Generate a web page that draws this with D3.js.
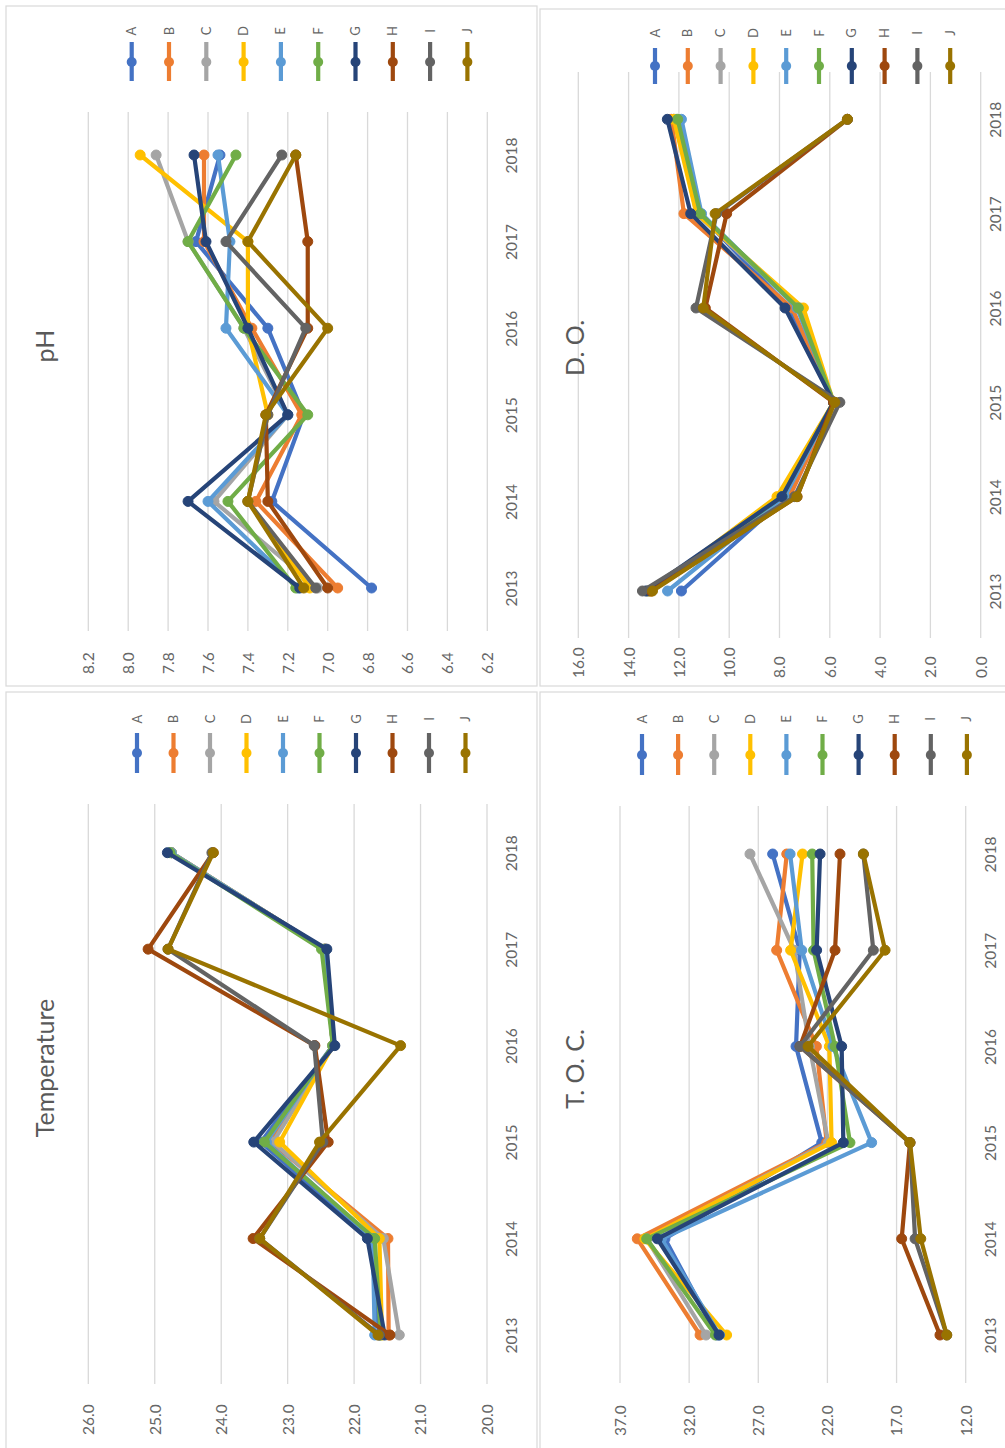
<!DOCTYPE html>
<html><head><meta charset="utf-8">
<script src="https://cdn.jsdelivr.net/npm/d3@7"></script>
<style>body{margin:0;background:#fff}svg{display:block}</style>
</head><body><svg id="c" width="1005" height="1448"></svg>
<script>
const years = ["2013","2014","2015","2016","2017","2018"];
const seriesNames = ["A","B","C","D","E","F","G","H","I","J"];
const seriesColors = ["#4472C4","#ED7D31","#A5A5A5","#FFC000","#5B9BD5","#70AD47","#264478","#9E480E","#636363","#997300"];

const phTicks = [8.2,8.0,7.8,7.6,7.4,7.2,7.0,6.8,6.6,6.4,6.2];
const phData = [
  [6.78,7.28,7.12,7.30,7.66,7.54],
  [6.95,7.36,7.13,7.38,7.62,7.62],
  [7.05,7.57,7.20,7.42,7.70,7.86],
  [7.09,7.40,7.30,7.40,7.40,7.94],
  [7.15,7.60,7.20,7.51,7.49,7.55],
  [7.16,7.50,7.10,7.42,7.70,7.46],
  [7.14,7.70,7.20,7.40,7.61,7.67],
  [7.00,7.30,7.31,7.10,7.10,7.16],
  [7.06,7.40,7.30,7.11,7.51,7.23],
  [7.12,7.40,7.31,7.00,7.40,7.16]
];

const doTicks = [16,14,12,10,8,6,4,2,0];
const doData = [
  [11.9,7.7,5.85,7.6,11.2,12.2],
  [13.2,7.6,5.85,7.5,11.8,12.3],
  [13.3,7.8,5.85,7.2,11.3,12.1],
  [13.1,8.1,5.85,7.05,11.3,12.2],
  [12.45,7.8,5.85,7.3,11.1,11.9],
  [13.2,7.9,5.85,7.25,11.15,12.05],
  [13.3,7.9,5.85,7.78,11.53,12.46],
  [13.1,7.3,5.85,10.95,10.1,5.3],
  [13.45,7.4,5.6,11.32,10.5,5.3],
  [13.05,7.31,5.8,11.03,10.56,5.3]
];

const tempTicks = [26,25,24,23,22,21,20];
const tempData = [
  [21.62,21.75,23.40,22.32,22.44,24.75],
  [21.48,21.49,23.25,22.32,22.44,24.75],
  [21.32,21.56,23.22,22.32,22.44,24.75],
  [21.58,21.62,23.12,22.32,22.44,24.75],
  [21.69,21.72,23.32,22.32,22.44,24.75],
  [21.60,21.69,23.35,22.32,22.49,24.77],
  [21.54,21.80,23.51,22.29,22.41,24.81],
  [21.46,23.52,22.39,22.59,25.10,24.12],
  [21.62,23.42,22.47,22.60,24.80,24.14],
  [21.64,23.42,22.52,21.30,24.80,24.12]
];

const tocTicks = [37,32,27,22,17,12];
const tocData = [
  [30.0,33.75,22.41,24.27,24.0,25.96],
  [31.21,35.75,22.05,22.8,25.67,24.94],
  [30.78,35.07,21.93,23.3,24.4,27.6],
  [29.29,35.2,21.7,21.86,24.66,23.8],
  [29.8,34.0,18.8,21.6,23.86,24.7],
  [30.1,35.07,20.37,21.45,23.0,23.1],
  [29.84,34.3,20.85,20.97,22.78,22.53],
  [13.86,16.63,16.03,23.98,21.45,21.09],
  [13.37,15.66,16.03,23.98,18.68,19.4],
  [13.37,15.25,16.03,23.4,17.83,19.4]
];

const FONT = "Lato, 'Open Sans', sans-serif";
const svg = d3.select("#c");

function drawPanel(p) {
  const g = svg.append("g");
  g.append("rect").attr("x", p.box[0]).attr("y", p.box[1]).attr("width", p.box[2]).attr("height", p.box[3])
    .attr("fill", "#fff").attr("stroke", "#d9d9d9").attr("stroke-width", 1.2);

  const x = d3.scaleLinear().domain([p.ticks[0], p.ticks[p.ticks.length - 1]]).range(p.xRange);
  const y = d3.scalePoint().domain(years).range(p.yRange);

  g.selectAll("line.grid").data(p.ticks).join("line").attr("class", "grid")
    .attr("x1", d => x(d)).attr("x2", d => x(d))
    .attr("y1", p.gridY[0]).attr("y2", p.gridY[1])
    .attr("stroke", "#d9d9d9").attr("stroke-width", 1.3);

  const va = g.append("g").attr("transform", `translate(0,${p.valueLabelY})`)
    .call(d3.axisBottom(x).tickValues(p.ticks).tickSize(0).tickFormat(d3.format(".1f")));
  va.select(".domain").remove();
  va.attr("font-family", FONT).attr("font-size", 15.5);
  va.selectAll("text").attr("x", 0).attr("y", 0).attr("dy", "0.35em")
    .attr("transform", "rotate(-90)").attr("text-anchor", "start").attr("fill", "#666");

  const ya = g.append("g").attr("transform", `translate(${p.yearX},0)`)
    .call(d3.axisRight(y).tickSize(0));
  ya.select(".domain").remove();
  ya.attr("font-family", FONT).attr("font-size", 15.5);
  ya.selectAll("text").attr("x", 0).attr("y", 0).attr("dy", "0.35em")
    .attr("transform", "rotate(-90)").attr("text-anchor", "middle").attr("fill", "#666");

  g.append("text").attr("transform", `translate(${p.title[0]},${p.title[1]}) rotate(-90)`)
    .attr("text-anchor", "middle").attr("dy", "0.35em")
    .attr("font-family", FONT).attr("font-size", 25).attr("fill", "#595959").text(p.titleText);

  const line = d3.line().x(d => x(d.v)).y(d => y(d.yr));
  p.data.forEach((vals, i) => {
    const pts = vals.map((v, j) => ({ v: v, yr: years[j] }));
    const sg = g.append("g");
    sg.append("path").datum(pts).attr("d", line).attr("fill", "none")
      .attr("stroke", seriesColors[i]).attr("stroke-width", 4.2)
      .attr("stroke-linejoin", "round").attr("stroke-linecap", "round");
    sg.selectAll("circle").data(pts).join("circle")
      .attr("cx", d => x(d.v)).attr("cy", d => y(d.yr)).attr("r", 5)
      .attr("fill", seriesColors[i]).attr("stroke", seriesColors[i]).attr("stroke-width", 1);
  });

  seriesNames.forEach((n, i) => {
    const lx = p.leg.x0 + i * p.leg.dx;
    const lg = g.append("g");
    lg.append("line").attr("x1", lx).attr("x2", lx).attr("y1", p.leg.line[0]).attr("y2", p.leg.line[1])
      .attr("stroke", seriesColors[i]).attr("stroke-width", 4.2);
    lg.append("circle").attr("cx", lx).attr("cy", p.leg.dot).attr("r", 5).attr("fill", seriesColors[i]);
    lg.append("text").attr("transform", `translate(${lx},${p.leg.textY}) rotate(-90)`)
      .attr("text-anchor", "middle").attr("dy", "0.35em")
      .attr("font-family", FONT).attr("font-size", 13).attr("fill", "#666").text(n);
  });
}

drawPanel({
  box: [6, 6, 531, 680], titleText: "pH", title: [45, 346],
  ticks: phTicks, data: phData,
  xRange: [88.3, 487.3], yRange: [588, 155], gridY: [112, 631],
  valueLabelY: 674, yearX: 512,
  leg: { x0: 131.7, dx: 37.3, textY: 31, line: [42, 81], dot: 62 }
});
drawPanel({
  box: [540, 9, 480, 677], titleText: "D. O.", title: [575, 348],
  ticks: doTicks, data: doData,
  xRange: [578.3, 980.7], yRange: [591, 119.3], gridY: [72, 638],
  valueLabelY: 678, yearX: 996,
  leg: { x0: 655, dx: 32.8, textY: 33, line: [48, 84], dot: 66 }
});
drawPanel({
  box: [6, 692, 531, 770], titleText: "Temperature", title: [45, 1068],
  ticks: tempTicks, data: tempData,
  xRange: [88.3, 487], yRange: [1335, 852.7], gridY: [804, 1384],
  valueLabelY: 1435, yearX: 512,
  leg: { x0: 137, dx: 36.5, textY: 719, line: [733, 773], dot: 753 }
});
drawPanel({
  box: [540, 692, 480, 770], titleText: "T. O. C.", title: [575, 1069],
  ticks: tocTicks, data: tocData,
  xRange: [620, 965.7], yRange: [1335, 854], gridY: [806, 1383],
  valueLabelY: 1436, yearX: 991,
  leg: { x0: 642, dx: 36.1, textY: 719, line: [734, 775], dot: 755 }
});
</script>
</body></html>
